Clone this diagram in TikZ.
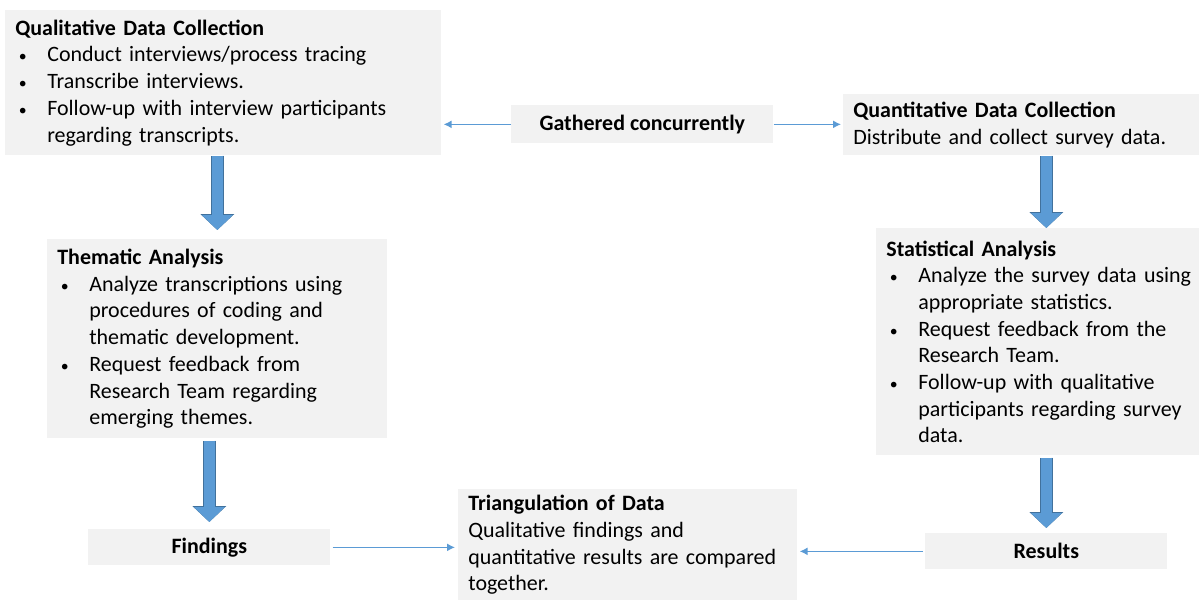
\documentclass[tikz,border=0pt]{standalone}
\usepackage{fontspec}
\setmainfont{Carlito}
\usetikzlibrary{arrows.meta}

\definecolor{boxgray}{HTML}{F2F2F2}
\definecolor{linkblue}{HTML}{5B9BD5}
\definecolor{flowedge}{HTML}{41719C}

\hyphenpenalty=10000

% bullet line with hanging indent
\newcommand\bitem{\par\hangindent=0.64cm\hangafter=1\noindent\makebox[0.64cm][l]{\hspace{0.07cm}{\fontsize{9pt}{9pt}\selectfont\textbullet}}}

\tikzset{
	box/.style={fill=boxgray, anchor=north west, align=left, inner xsep=0.2cm, inner ysep=0.05cm,
		font=\fontsize{12.5pt}{15.2pt}\selectfont},
	label box/.style={fill=boxgray, anchor=north west, align=center, inner sep=0pt,
		font=\fontsize{12.5pt}{15.2pt}\selectfont\bfseries},
	link/.style={draw=linkblue, line width=0.8pt, -{Latex[length=0.16cm,width=0.16cm]}},
	flow/.style={draw=linkblue, line width=0.22cm, -{Triangle[length=0.3cm,width=0.6cm]},
		preaction={draw=flowedge, line width=0.26cm, -{Triangle[length=0.32cm,width=0.66cm]}}}
}

\begin{document}
\begin{tikzpicture}[x=0.02cm, y=-0.02cm]
	\useasboundingbox (0,0) rectangle (1199,600);

	% boxes
	\node[box, text width=8.32cm, minimum height=2.9cm] (qual) at (5,10)
		{\textbf{Qualitative Data Collection}
		\bitem Conduct interviews/process tracing
		\bitem Transcribe interviews.
		\bitem Follow-up with interview participants\newline regarding transcripts.\par};

	\node[label box, minimum width=5.24cm, minimum height=0.76cm] (gath) at (511,105) {Gathered concurrently};

	\node[box, text width=6.72cm, minimum height=1.22cm] (quant) at (843,94)
		{\textbf{Quantitative Data Collection}\newline Distribute and collect survey data.};

	\node[box, text width=6.4cm, minimum height=3.98cm] (them) at (47,239)
		{\textbf{Thematic Analysis}
		\bitem Analyze transcriptions using\newline procedures of coding and\newline thematic development.
		\bitem Request feedback from\newline Research Team regarding\newline emerging themes.\par};

	\node[box, text width=6.06cm, minimum height=4.54cm] (stat) at (876,228)
		{\textbf{Statistical Analysis}
		\bitem \mbox{Analyze the survey data using}\newline appropriate statistics.
		\bitem Request feedback from the\newline Research Team.
		\bitem Follow-up with qualitative\newline participants regarding survey\newline data.\par};

	\node[label box, minimum width=4.84cm, minimum height=0.72cm] (find) at (88,529) {Findings};

	\node[box, text width=6.38cm, minimum height=2.22cm] (tri) at (458,489)
		{\textbf{Triangulation of Data}\newline Qualitative findings and\newline quantitative results are compared\newline together.};

	\node[label box, minimum width=4.84cm, minimum height=0.72cm] (res) at (925,533) {Results};

	% thin arrows
	\draw[link, shorten >=0.04cm] (gath.west) -- (qual.east |- gath.west);
	\draw[link, shorten >=0.04cm] (gath.east) -- (quant.west |- gath.east);
	\draw[link, shorten <=0.04cm, shorten >=0.06cm] (find.east) -- (tri.west |- find.east);
	\draw[link, shorten <=0.04cm, shorten >=0.04cm] (res.west) -- (tri.east |- res.west);

	% block arrows
	\draw[flow, shorten >=0.18cm] (them.north |- qual.south) -- (them.north);
	\draw[flow, shorten <=0.04cm, shorten >=0.14cm] (find.north |- them.south) -- (find.north);
	\draw[flow] (res.north |- quant.south) -- (res.north |- stat.north);
	\draw[flow, shorten <=0.04cm, shorten >=0.1cm] (res.north |- stat.south) -- (res.north);
\end{tikzpicture}
\end{document}
